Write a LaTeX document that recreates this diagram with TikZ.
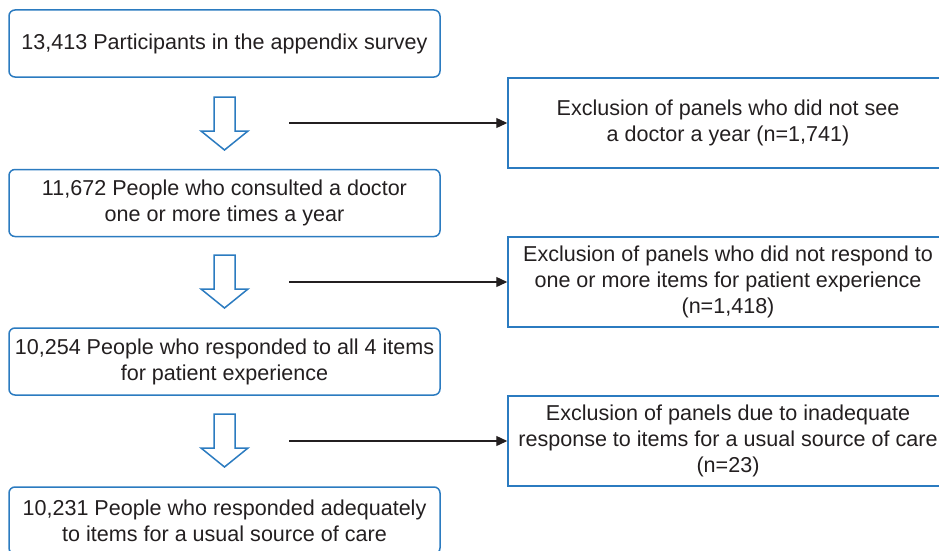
\documentclass[tikz,border=0pt]{standalone}
\usepackage{fontspec}
\setmainfont{Liberation Sans}
\usetikzlibrary{arrows.meta}
\definecolor{boxblue}{HTML}{2B7BC0}
\definecolor{txt}{HTML}{231F20}
\begin{document}
\begin{tikzpicture}[x=1pt,y=-1pt,
  boxtext/.style={text=txt, font=\fontsize{21.55}{26}\selectfont, align=center, inner sep=0pt},
  mainbox/.style={boxtext, draw=boxblue, line width=1.5pt, rounded corners=6pt, minimum width=431pt, minimum height=67pt},
  exclbox/.style={boxtext, draw=boxblue, line width=1.5pt, minimum width=440pt, minimum height=90pt},
  blockarrow/.style={draw=boxblue, line width=1.5pt, fill=white, line join=miter},
  link/.style={draw=txt, line width=1.3pt, -{Triangle[length=11pt,width=10pt]}}
]
\useasboundingbox (0,0) rectangle (939,551);
\clip (0,0) rectangle (939,551);

\node[mainbox] (b1) at (224.5,43.5) {13,413 Participants in the appendix survey};
\node[mainbox] (b2) at (224.5,203) {11,672 People who consulted a doctor\\one or more times a year};
\node[mainbox] (b3) at (224.5,361.5) {10,254 People who responded to all 4 items\\for patient experience};
\node[mainbox] (b4) at (224.5,520.5) {10,231 People who responded adequately\\to items for a usual source of care};

\node[exclbox] (e1) at (728,123) {Exclusion of panels who did not see\\a doctor a year (n=1,741)};
\node[exclbox] (e2) at (728,282) {Exclusion of panels who did not respond to\\one or more items for patient experience\\(n=1,418)};
\node[exclbox] (e3) at (728,441) {Exclusion of panels due to inadequate\\response to items for a usual source of care\\(n=23)};

\foreach \t in {97,255,414}{
  \draw[blockarrow] (214,\t) -- (235,\t) -- (235,\t+34) -- (248,\t+34) -- (224.5,\t+53) -- (201,\t+34) -- (214,\t+34) -- cycle;
}

\coordinate (s1) at (289,123);
\coordinate (s2) at (289,282);
\coordinate (s3) at (289,441);
\draw[link] (s1) -- (e1.west);
\draw[link] (s2) -- (e2.west);
\draw[link] (s3) -- (e3.west);
\end{tikzpicture}
\end{document}
